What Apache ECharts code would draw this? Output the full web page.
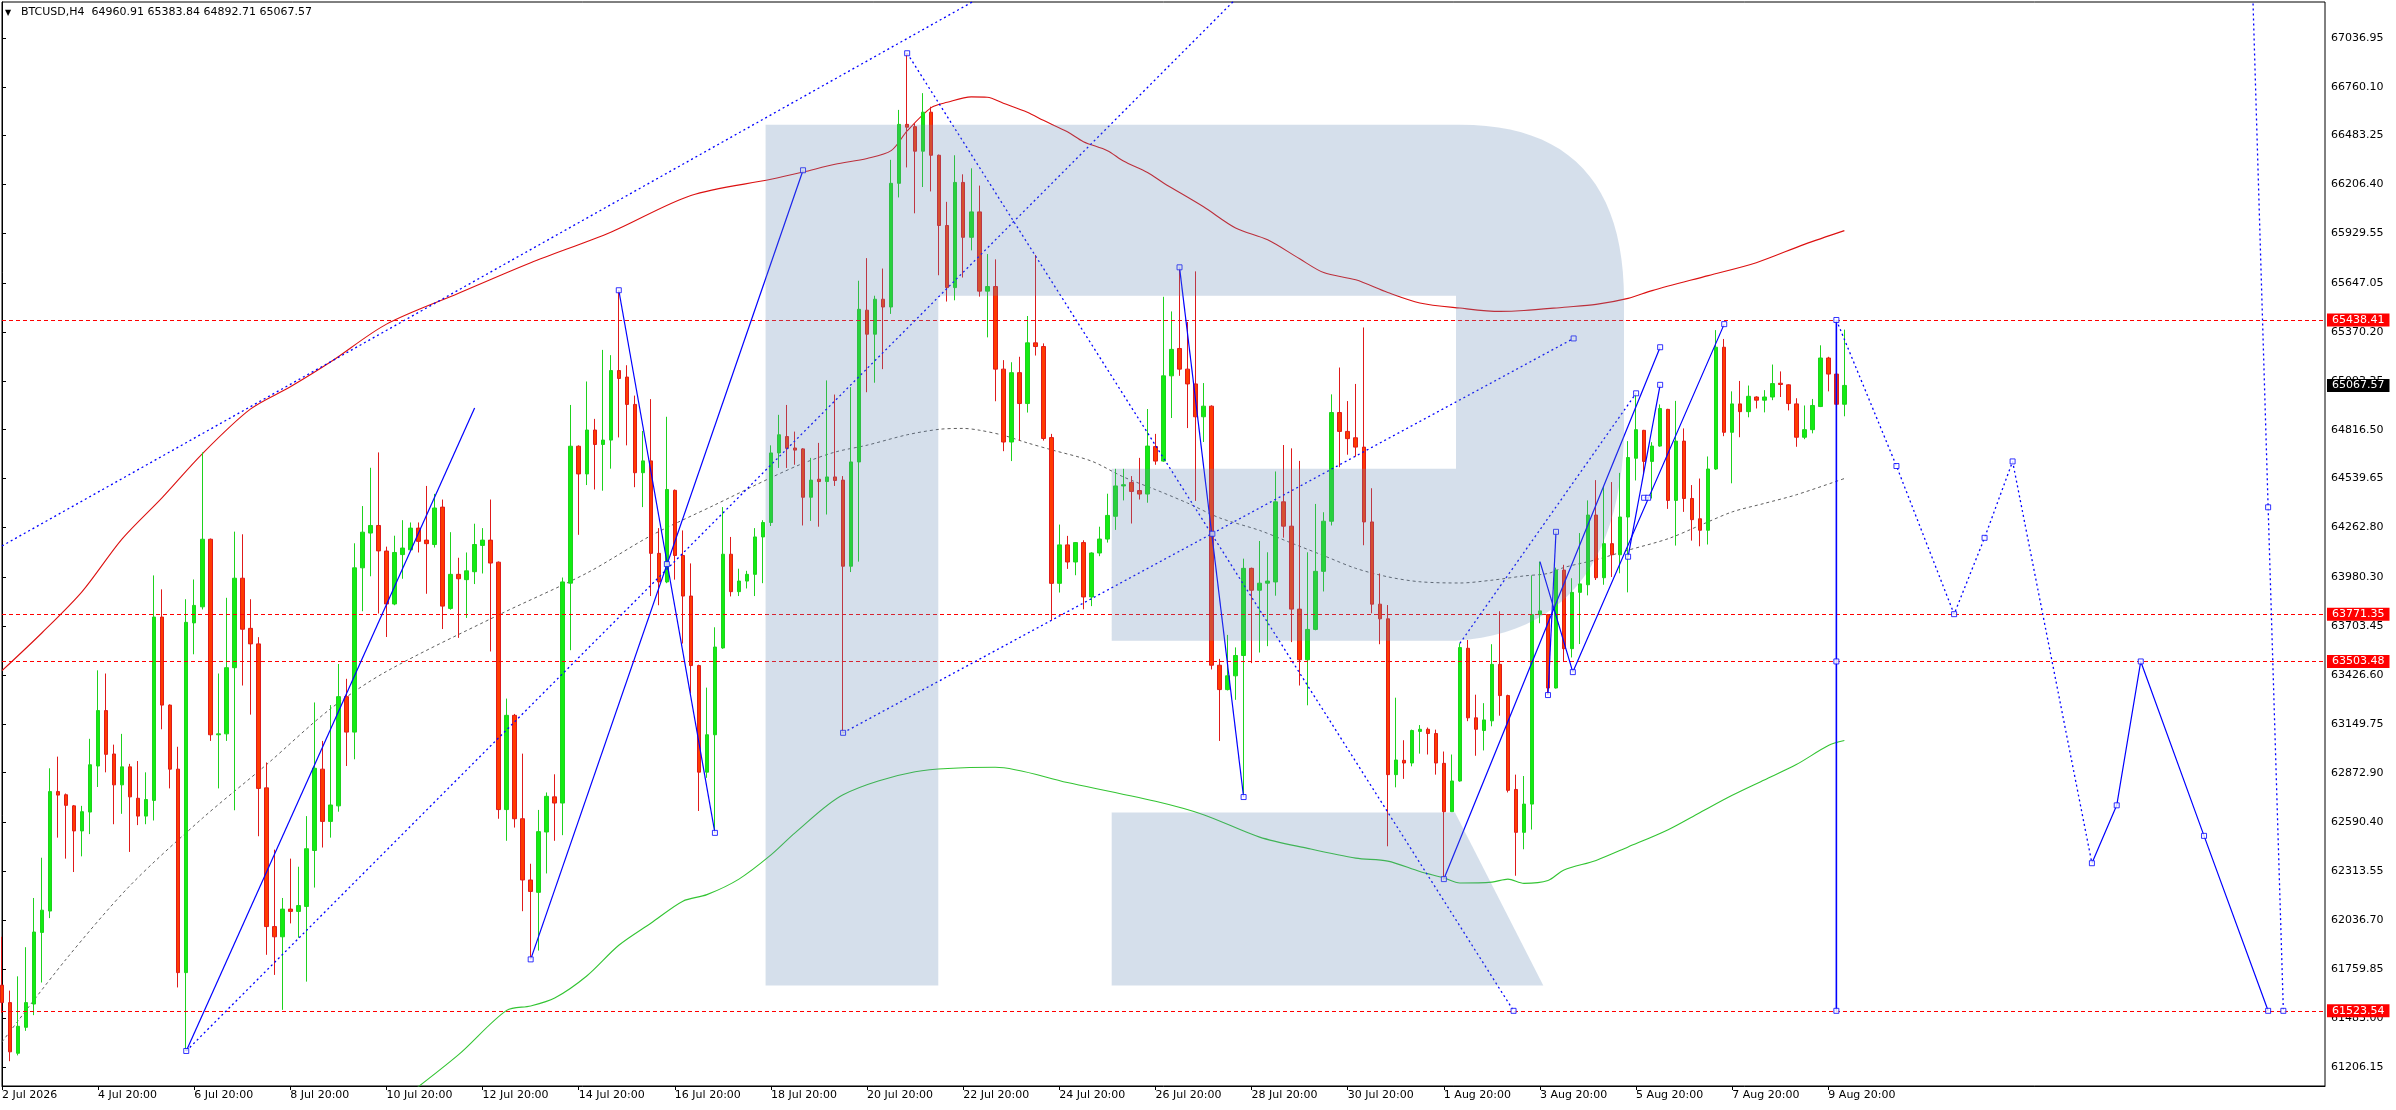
<!DOCTYPE html>
<html><head><meta charset="utf-8">
<script src="https://cdn.jsdelivr.net/npm/echarts@6/dist/echarts.min.js"></script>
<style>html,body{margin:0;padding:0;background:#fff}#c{width:2396px;height:1110px}</style>
</head><body><div id="c"></div>
<script>
const symbolName = 'BTCUSD,H4';
const xTickLabels = ['2 Jul 2026','4 Jul 20:00','6 Jul 20:00','8 Jul 20:00','10 Jul 20:00','12 Jul 20:00','14 Jul 20:00','16 Jul 20:00','18 Jul 20:00','20 Jul 20:00','22 Jul 20:00','24 Jul 20:00','26 Jul 20:00','28 Jul 20:00','30 Jul 20:00','1 Aug 20:00','3 Aug 20:00','5 Aug 20:00','7 Aug 20:00','9 Aug 20:00'];
const yTickLabels = ['67036.95','66760.10','66483.25','66206.40','65929.55','65647.05','65370.20','65093.35','64816.50','64539.65','64262.80','63980.30','63703.45','63426.60','63149.75','62872.90','62590.40','62313.55','62036.70','61759.85','61483.00','61206.15'];

const openP = [61669,61570,61283,61430,61562,61968,62089,62766,62748,62685,
62543,62650,62911,63225,62979,62804,62906,62728,62627,62716,
63755,63256,62893,61740,63722,63813,64196,63088,63093,63468,
63975,63691,63603,62787,62001,61943,62100,62087,62115,62432,
62893,62597,62685,63304,63103,64034,64231,64274,64129,63829,
64109,64136,64259,64191,64166,64378,63804,63997,63967,64012,
64161,64191,64066,62664,63198,62612,62265,62195,62537,62736,
62701,63947,64723,64566,64815,64733,64758,65152,65115,64960,
64573,64640,64116,63954,64473,64104,63874,63480,62876,63088,
63580,64111,63899,63959,63997,64209,64291,64685,64778,64713,
64708,64434,64536,64523,64549,64531,64043,64634,65494,65358,
65556,65512,66213,66547,66534,66395,66616,66372,65974,65622,
66218,65907,66051,65602,65628,65160,64747,65140,64965,65309,
65288,64772,63946,64164,64067,64177,63869,64118,64197,64326,
64498,64518,64472,64452,64721,64639,65122,65277,65160,65076,
64890,64950,63482,63344,63422,63537,64031,63907,63947,63954,
64408,64270,63800,63513,63685,64014,64298,64914,64807,64771,
64718,64294,63828,63745,62862,62943,62928,63107,63119,63095,
62926,62652,62826,63578,63184,63112,63167,63487,63310,62778,
62535,62695,63769,63769,63353,64021,63576,63895,63938,64333,
63978,64171,64108,64322,64655,64813,64637,64724,64932,64416,
64752,64427,64312,64247,64594,65284,64802,64963,64919,65002,
64984,65002,65080,65071,64963,64774,64817,64948,65223,65132,
64960.91];
const highP = [61943,61638,61719,61884,62163,62391,62898,62964,62755,62690,
62685,63065,63453,63435,63032,63093,62923,62939,62875,63991,
63912,63260,63020,63856,63968,64688,64200,63435,63864,64239,
64224,63856,63641,62931,62437,62163,62386,62340,62627,63271,
63053,63256,63489,63405,64173,64384,64601,64688,64154,64216,
64304,64291,64291,64498,64453,64421,64236,64091,64121,64284,
64259,64421,64070,63293,63206,62981,62357,62662,62761,62864,
63979,64957,64728,65090,64878,65269,65239,65607,65182,65010,
64810,64990,64259,64890,64478,64246,64059,63485,63355,63697,
64378,64209,64029,64017,64259,64304,64728,64901,64957,64806,
64712,64657,64742,65096,65016,64554,65058,65661,65789,65576,
65730,66346,66629,66950,66552,66724,66647,66376,66108,66372,
66264,66298,66200,65812,65782,65211,65199,65230,65461,65807,
65306,64793,64279,64215,64180,64190,64122,64267,64454,64595,
64595,64554,64657,64934,64793,65570,65487,65726,65427,65714,
65081,64955,63518,63654,63583,64086,64035,64186,64122,64580,
64730,64711,64640,64122,64396,64349,65017,65169,64979,65076,
65396,64485,64002,63823,63298,63057,63117,63143,63129,63117,
62993,62976,63606,63625,63315,63267,63601,63788,63315,62862,
62854,63991,64069,63772,64035,64051,63975,64231,64416,64531,
64492,64520,64572,64752,65023,64816,64746,64960,64935,64980,
64824,64503,64540,64665,65381,65331,65034,65093,65067,65006,
65041,65186,65147,65074,64995,64954,64991,65295,65230,65438.41,
65383.84];
const lowP = [61512,61238,61271,61410,61499,61684,62049,62505,62386,62310,
62399,62525,62792,62875,62581,62640,62424,62576,62581,62602,
63119,62784,61656,61296,63544,63798,63053,62784,63053,62660,
63367,63202,62513,61841,61727,61529,62019,61938,61689,62222,
62449,62505,62652,62911,62949,63788,63986,63775,63642,63822,
63972,64129,64121,63887,64149,63687,63797,63637,63750,63942,
64002,63560,62612,62487,62562,62088,61815,61865,62302,62487,
62519,63567,64221,64503,64478,64471,64596,64773,64728,64491,
64378,63874,63822,63947,63967,63605,63323,62656,62844,62532,
63575,63872,63874,63917,63874,63947,64271,64600,64600,64618,
64274,64300,64267,64336,64498,63099,64010,64069,65029,65083,
65160,65473,66133,66303,66043,66192,66167,65692,65543,65550,
65679,65833,65571,65340,64978,64695,64639,64754,64914,65237,
64755,63735,63894,64028,63992,63799,63817,64100,64177,64249,
64416,64285,64421,64403,64618,64635,64883,65122,64826,64413,
64747,63458,63053,63339,63286,62754,63494,63554,63590,63876,
64205,63613,63367,63255,63680,63900,64274,64604,64675,64664,
64162,63776,63601,62456,62790,62838,62909,62981,62976,62862,
62265,62650,62822,63165,62969,62999,63136,63196,62761,62289,
62439,62551,63720,63313,63350,63500,63526,63602,63878,63965,
63938,63982,64003,63895,64529,64563,64427,64720,64368,64160,
64351,64188,64156,64166,64589,64780,64513,64774,64887,64937,
64915,64984,65002,64926,64720,64763,64796,64945,65034,64950,
64892.71];
const closeP = [61570,61291,61436,61570,61970,62094,62766,62746,62688,62543,
62652,62918,63225,62977,62804,62906,62736,62627,62721,63755,
63256,62893,61740,63725,63821,64196,63088,63093,63468,63975,
63686,63603,62784,62001,61943,62100,62087,62120,62442,62898,
62597,62690,63304,63103,64034,64236,64274,64130,63829,64121,
64146,64259,64184,64171,64373,63817,63997,63972,64017,64166,
64191,64061,62664,63198,62612,62265,62200,62539,62739,62701,
63954,64723,64566,64815,64733,64758,65152,65107,64960,64573,
64640,64116,63954,64478,64104,63874,63480,62876,63088,63585,
64111,63899,63959,63997,64209,64291,64685,64788,64711,64701,
64434,64531,64523,64549,64529,64043,64634,65499,65358,65556,
65512,66213,66547,66531,66395,66616,66372,65974,65622,66218,
65907,66051,65602,65628,65160,64747,65140,64965,65309,65288,
64767,63946,64164,64067,64177,63869,64118,64197,64331,64498,
64505,64467,64452,64724,64639,65122,65272,65160,65076,64890,
64950,63482,63344,63422,63537,64031,63907,63947,63959,64408,
64270,63800,63513,63685,64014,64298,64914,64807,64766,64718,
64294,63828,63745,62862,62945,62928,63112,63119,63095,62928,
62652,62826,63582,63184,63119,63172,63487,63310,62773,62535,
62695,63769,63790,63353,64021,63576,63895,63943,64333,63978,
64171,64108,64322,64659,64817,64637,64724,64937,64416,64752,
64427,64307,64247,64594,65284,64802,64963,64919,65006,64984,
65002,65078,65073,64965,64774,64817,64954,65223,65132,64960.91,
65067.57];

const levelPrices = [65438.41, 63771.35, 63503.48, 61523.54];
const lastPrice = 65067.57;

const maRed = [[0,63451],[5,63666],[10,63899],[15,64198],[20,64432],[25,64680],[31,64933],[36,65060],[41,65200],[48,65415],[57,65590],[66,65763],[76,65936],[86,66144],[96,66236],[100,66277],[104,66321],[108,66354],[111,66398],[113,66510],[116,66642],[118,66672],[121,66703],[123,66701],[125,66667],[128,66616],[130,66570],[133,66505],[135,66449],[138,66398],[140,66339],[143,66274],[145,66215],[150,66080],[154,65960],[158,65893],[162,65785],[165,65707],[169,65666],[173,65594],[177,65535],[182,65506],[187,65487],[190,65492],[195,65511],[199,65527],[203,65561],[206,65605],[213,65690],[219,65763],[225,65867],[230,65945]];
const maGreen = [[49,60990],[57,61275],[63,61526],[66,61551],[69,61596],[73,61721],[77,61895],[81,62020],[85,62145],[88,62182],[92,62270],[96,62407],[99,62532],[105,62748],[114,62878],[124,62904],[133,62817],[144,62711],[150,62635],[157,62508],[163,62444],[169,62389],[173,62372],[177,62313],[180,62277],[182,62248],[186,62253],[188,62270],[190,62246],[193,62262],[195,62322],[199,62376],[203,62452],[208,62550],[212,62648],[216,62745],[220,62832],[224,62919],[228,63027],[230,63055]];
const maGray = [[0,61347],[8,61816],[16,62234],[25,62614],[33,62918],[41,63235],[48,63447],[62,63767],[73,64004],[81,64216],[89,64391],[96,64545],[100,64626],[104,64690],[108,64729],[113,64788],[117,64819],[120,64824],[122,64814],[125,64785],[128,64742],[131,64703],[136,64639],[140,64549],[144,64477],[148,64401],[152,64317],[157,64246],[161,64174],[165,64103],[169,64031],[173,63983],[177,63955],[182,63948],[186,63964],[190,63988],[193,64002],[195,64036],[199,64080],[203,64134],[208,64199],[212,64275],[216,64351],[220,64399],[224,64448],[230,64540]];

const dotA = [[0,64158],[125,67339]];
const dotB = [[23,61296],[155,67302]];
const dotC = [[105,63099],[196.2,65334]];
const dotD = [[113,66950],[188.7,61523.54]];
const dotE = [[182,63606],[204,65023]];
const dotFuture = [[229,65438.41],[236.5,64611],[243.7,63771.35],[247.5,64204],[251,64637],[260.9,62360]];
const dotDrop = [[281,67260],[282.9,64377],[284.8,61523.54]];
const solid1 = [[23,61296],[59,64940]];
const solid2 = [[66,61815],[100,66287]];
const solid3 = [[77,65607],[89,62532]];
const solid6 = [[147,65737],[155,62735]];
const solid7a = [[180,62270],[207,65284]];
const solid7b = [[192,64069],[196.1,63443],[215,65415]];
const solid7c = [[193,63313],[194,64238]];
const solid7d = [[203,64097],[207,65071]];
const solid7e = [[205,64431],[205.5,64431]];
const solidV = [[229,65438.41],[229,61523.54]];
const solidFuture = [[260.9,62360],[264,62688],[267,63503.48],[274.9,62515],[282.9,61523.54]];
const anchorPoints = [[23,61296],[66,61815],[100,66287],[77,65607],[89,62532],[83,64055],[105,63099],[113,66950],[147,65737],[151.1,64227],[155,62735],[180,62270],[188.7,61523.54],[196.2,65334],[207,65284],[196.1,63443],[215,65415],[193,63313],[194,64238],[203,64097],[207,65071],[205,64431],[205.5,64431],[204,65023],[229,65438.41],[229,63503.48],[229,61523.54],[236.5,64611],[243.7,63771.35],[247.5,64204],[251,64637],[260.9,62360],[264,62688],[267,63503.48],[274.9,62515],[282.9,61523.54],[282.9,64377],[284.8,61523.54]];

const FONT = 'DejaVu Sans';
const N = 291;
const cats = Array.from({length: N}, (_, i) => String(i));
const showTick = (i) => i % 12 === 0 && (i / 12) < xTickLabels.length;
const candles = openP.map((o, i) => [o, closeP[i], lowP[i], highP[i]]);

function lineS(data, color, type, width, z, smooth) {
  return {type: 'line', xAxisIndex: 1, yAxisIndex: 0, data: data, showSymbol: false, symbol: 'none',
    silent: true, animation: false, z: z || 3, smooth: smooth || false,
    lineStyle: {color: color, type: type, width: width}};
}
function quad(p0, c, p1, n) {
  const pts = [];
  for (let k = 1; k <= n; k++) {
    const t = k / n;
    pts.push([(1-t)*(1-t)*p0[0] + 2*t*(1-t)*c[0] + t*t*p1[0], (1-t)*(1-t)*p0[1] + 2*t*(1-t)*c[1] + t*t*p1[1]]);
  }
  return pts;
}
const logoMain = [[765.6,124.7],[1460,124.7]]
  .concat(quad([1460,124.7],[1624,124.7],[1624,300],24))
  .concat([[1624,440]])
  .concat(quad([1624,440],[1615,630],[1456,640.7],24))
  .concat([[1111.7,640.7],[1111.7,468.8],[1456,468.8],[1456,295.8],[938.3,295.8],[938.3,985.6],[765.6,985.6]]);
const logoLeg = [[1111.7,812.5],[1455,812.5],[1543.3,985.6],[1111.7,985.6]];
const logoFill = 'rgba(99,136,181,0.27)';

const chart = echarts.init(document.getElementById('c'));
const lvlLabel = (bg) => ({show: true, position: 'end', distance: 2, formatter: (p) => p.value.toFixed(2),
  color: '#fff', backgroundColor: bg, padding: [1, 5, 0, 5], fontFamily: FONT, fontSize: 11, lineHeight: 12});
const BLUE = '#0000ff';

chart.setOption({
  animation: false,
  backgroundColor: '#fff',
  grid: {left: 2, right: 71, top: 2, bottom: 24, show: true, borderColor: '#000', borderWidth: 1, backgroundColor: '#fff', outerBoundsMode: 'none', containLabel: false},
  xAxis: [{
    type: 'category', data: cats, boundaryGap: false,
    axisLine: {show: true, lineStyle: {color: '#000', width: 1}},
    axisTick: {show: true, interval: (i) => showTick(i), length: 4, lineStyle: {color: '#000'}},
    axisLabel: {show: true, interval: (i) => showTick(i), formatter: (v, i) => xTickLabels[Math.round(i / 12)] || '',
      align: 'left', color: '#000', fontFamily: FONT, fontSize: 11, margin: 4},
    splitLine: {show: false}
  }, {
    type: 'value', min: 0, max: N - 1, show: false, splitLine: {show: false}
  }],
  yAxis: {
    type: 'value', position: 'right', min: 61097.5, max: 67240.5, scale: true,
    axisLine: {show: true, lineStyle: {color: '#000', width: 1}},
    axisTick: {show: true, length: 4, customValues: yTickLabels.map(Number), lineStyle: {color: '#000'}},
    axisLabel: {show: true, customValues: yTickLabels.map(Number), formatter: (v) => Number(v).toFixed(2),
      color: '#000', fontFamily: FONT, fontSize: 11, margin: 6},
    splitLine: {show: false}
  },
  graphic: [
    {type: 'polygon', z: 50, silent: true, shape: {points: logoMain}, style: {fill: logoFill}},
    {type: 'polygon', z: 50, silent: true, shape: {points: logoLeg}, style: {fill: logoFill}},
    {type: 'text', left: 5, top: 9, z: 60, silent: true, style: {text: '\u25BC', fill: '#000', font: '8px "DejaVu Sans"'}},
    {type: 'text', left: 21, top: 7, z: 60, silent: true, style: {
      text: symbolName + '  ' + openP[230].toFixed(2) + ' ' + highP[230].toFixed(2) + ' ' + lowP[230].toFixed(2) + ' ' + closeP[230].toFixed(2),
      fill: '#000', font: '11px "DejaVu Sans"'}}
  ],
  series: [
    lineS(maGreen, '#33c433', 'solid', 1.1, 3, 0.3),
    lineS(maRed, '#dc1010', 'solid', 1.1, 3, 0.3),
    lineS(maGray, '#5e5e5e', [3, 3], 1, 3, 0.3),
    {
      type: 'candlestick', xAxisIndex: 0, yAxisIndex: 0, data: candles, barWidth: 4, silent: true, z: 4,
      itemStyle: {color: '#12ec12', color0: '#ff3a00', borderColor: '#1ed21e', borderColor0: '#e01a1a', borderWidth: 1},
      markLine: {
        silent: true, symbol: ['none', 'none'], animation: false, precision: 2,
        data: levelPrices.map(v => ({yAxis: v, lineStyle: {color: '#ff0000', type: [4, 3], width: 1}, label: lvlLabel('#ff0000')}))
          .concat([{yAxis: lastPrice, lineStyle: {color: 'rgba(0,0,0,0)', width: 0}, label: lvlLabel('#000000')}])
      }
    },
    lineS(dotA, BLUE, [2, 3], 1.3, 5),
    lineS(dotB, BLUE, [2, 3], 1.3, 5),
    lineS(dotC, BLUE, [2, 3], 1.3, 5),
    lineS(dotD, BLUE, [2, 3], 1.3, 5),
    lineS(dotE, BLUE, [2, 3], 1.3, 5),
    lineS(dotFuture, BLUE, [2, 3], 1.3, 5),
    lineS(dotDrop, BLUE, [2, 3], 1.3, 5),
    lineS(solid1, BLUE, 'solid', 1.2, 5),
    lineS(solid2, BLUE, 'solid', 1.2, 5),
    lineS(solid3, BLUE, 'solid', 1.2, 5),
    lineS(solid6, BLUE, 'solid', 1.2, 5),
    lineS(solid7a, BLUE, 'solid', 1.2, 5),
    lineS(solid7b, BLUE, 'solid', 1.2, 5),
    lineS(solid7c, BLUE, 'solid', 1.2, 5),
    lineS(solid7d, BLUE, 'solid', 1.2, 5),
    lineS(solid7e, BLUE, 'solid', 1.2, 5),
    lineS(solidV, BLUE, 'solid', 1.6, 5),
    lineS(solidFuture, BLUE, 'solid', 1.2, 5),
    {type: 'scatter', xAxisIndex: 1, yAxisIndex: 0, data: anchorPoints, symbol: 'rect', symbolSize: 5, silent: true, z: 6,
      itemStyle: {color: '#ffffff', borderColor: BLUE, borderWidth: 1}}
  ]
});
</script></body></html>
